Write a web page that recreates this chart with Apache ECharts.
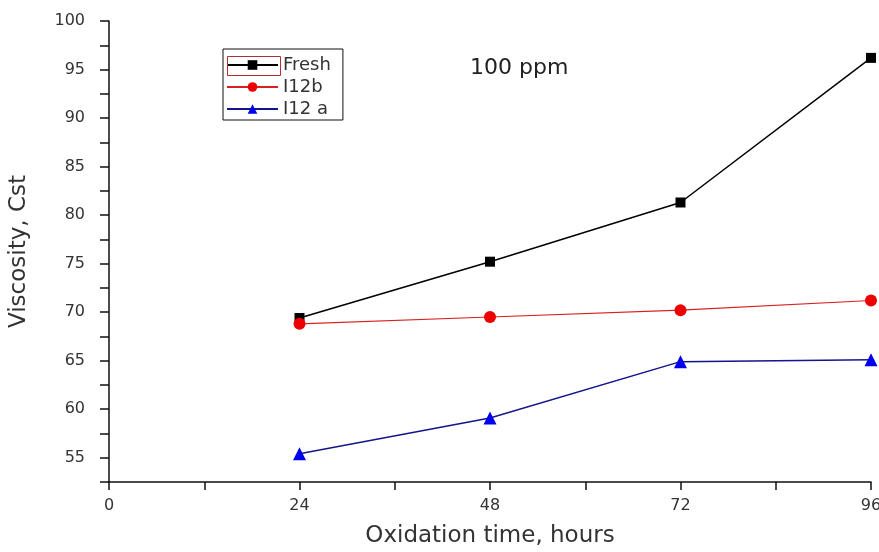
<!DOCTYPE html>
<html>
<head>
<meta charset="utf-8">
<script src="https://cdn.jsdelivr.net/npm/echarts@6/dist/echarts.min.js"></script>
<style>
html,body{margin:0;padding:0;background:#fff;}
#chart{width:879px;height:552px;}
</style>
</head>
<body>
<div id="chart"></div>
<script>
// oxidation time, hours
var hours = [24, 48, 72, 96];
// viscosity, Cst
var fresh = [69.4, 75.2, 81.3, 96.2];
var i12b = [68.8, 69.5, 70.2, 71.2];
var i12a = [55.4, 59.1, 64.9, 65.1];

function pairs(xs, ys) {
    return xs.map(function (x, i) { return [x, ys[i]]; });
}

var chart = echarts.init(document.getElementById('chart'));
var font = 'DejaVu Sans, sans-serif';

chart.setOption({
    animation: false,
    textStyle: { fontFamily: font },
    title: {
        text: '100 ppm',
        left: 470,
        top: 57,
        padding: 0,
        textStyle: { fontSize: 22, fontWeight: 'normal', color: '#222', fontFamily: font }
    },
    legend: {
        orient: 'vertical',
        left: 223,
        top: 49,
        padding: [7, 12, 2, 3],
        itemGap: 4,
        itemWidth: 51,
        itemHeight: 12,
        borderColor: '#111',
        borderWidth: 1,
        borderRadius: 0,
        textStyle: { fontSize: 18, color: '#333', fontFamily: font },
        data: ['Fresh', 'I12b', 'I12 a']
    },
    grid: { left: 109, right: 8, top: 21, bottom: 70, outerBoundsMode: 'none', containLabel: false },
    xAxis: {
        type: 'value',
        min: 0,
        max: 96,
        interval: 12,
        name: 'Oxidation time, hours',
        nameLocation: 'middle',
        nameGap: 43,
        nameTextStyle: { fontSize: 23, color: '#333', fontFamily: font },
        axisLine: { lineStyle: { color: '#111', width: 1.5 } },
        axisTick: { show: true, length: 8, lineStyle: { color: '#111', width: 1.5 } },
        axisLabel: {
            fontSize: 16,
            color: '#333',
            margin: 16,
            fontFamily: font,
            formatter: function (v) { return v % 24 === 0 ? String(v) : ''; }
        },
        splitLine: { show: false }
    },
    yAxis: {
        type: 'value',
        min: 52.5,
        max: 100,
        interval: 2.5,
        name: 'Viscosity, Cst',
        nameLocation: 'middle',
        nameGap: 78,
        nameTextStyle: { fontSize: 23, color: '#333', fontFamily: font },
        axisLine: { show: true, lineStyle: { color: '#111', width: 1.5 } },
        axisTick: { show: true, length: 9, lineStyle: { color: '#111', width: 1.5 } },
        axisLabel: {
            fontSize: 16,
            color: '#333',
            margin: 24,
            fontFamily: font,
            formatter: function (v) { return (v % 5 === 0 && v > 52.5) ? String(v) : ''; }
        },
        splitLine: { show: false }
    },
    series: [
        {
            name: 'Fresh',
            type: 'line',
            data: pairs(hours, fresh),
            symbol: 'rect',
            symbolSize: 10,
            color: '#000',
            lineStyle: { color: '#000', width: 1.5 },
            itemStyle: { color: '#000' },
            z: 3
        },
        {
            name: 'I12b',
            type: 'line',
            data: pairs(hours, i12b),
            symbol: 'circle',
            symbolSize: 12,
            color: '#ee0000',
            lineStyle: { color: '#d82020', width: 1.2 },
            itemStyle: { color: '#ee0000' },
            z: 4
        },
        {
            name: 'I12 a',
            type: 'line',
            data: pairs(hours, i12a),
            symbol: 'triangle',
            symbolSize: 13,
            color: '#0000ee',
            lineStyle: { color: '#14148c', width: 1.5 },
            itemStyle: { color: '#0000ee' },
            z: 3
        }
    ],
    graphic: [
        {
            type: 'rect',
            left: 225,
            top: 54,
            shape: { width: 53, height: 19 },
            style: { fill: 'none', stroke: '#b03030', lineWidth: 1 },
            z: 100
        }
    ]
});
</script>
</body>
</html>
